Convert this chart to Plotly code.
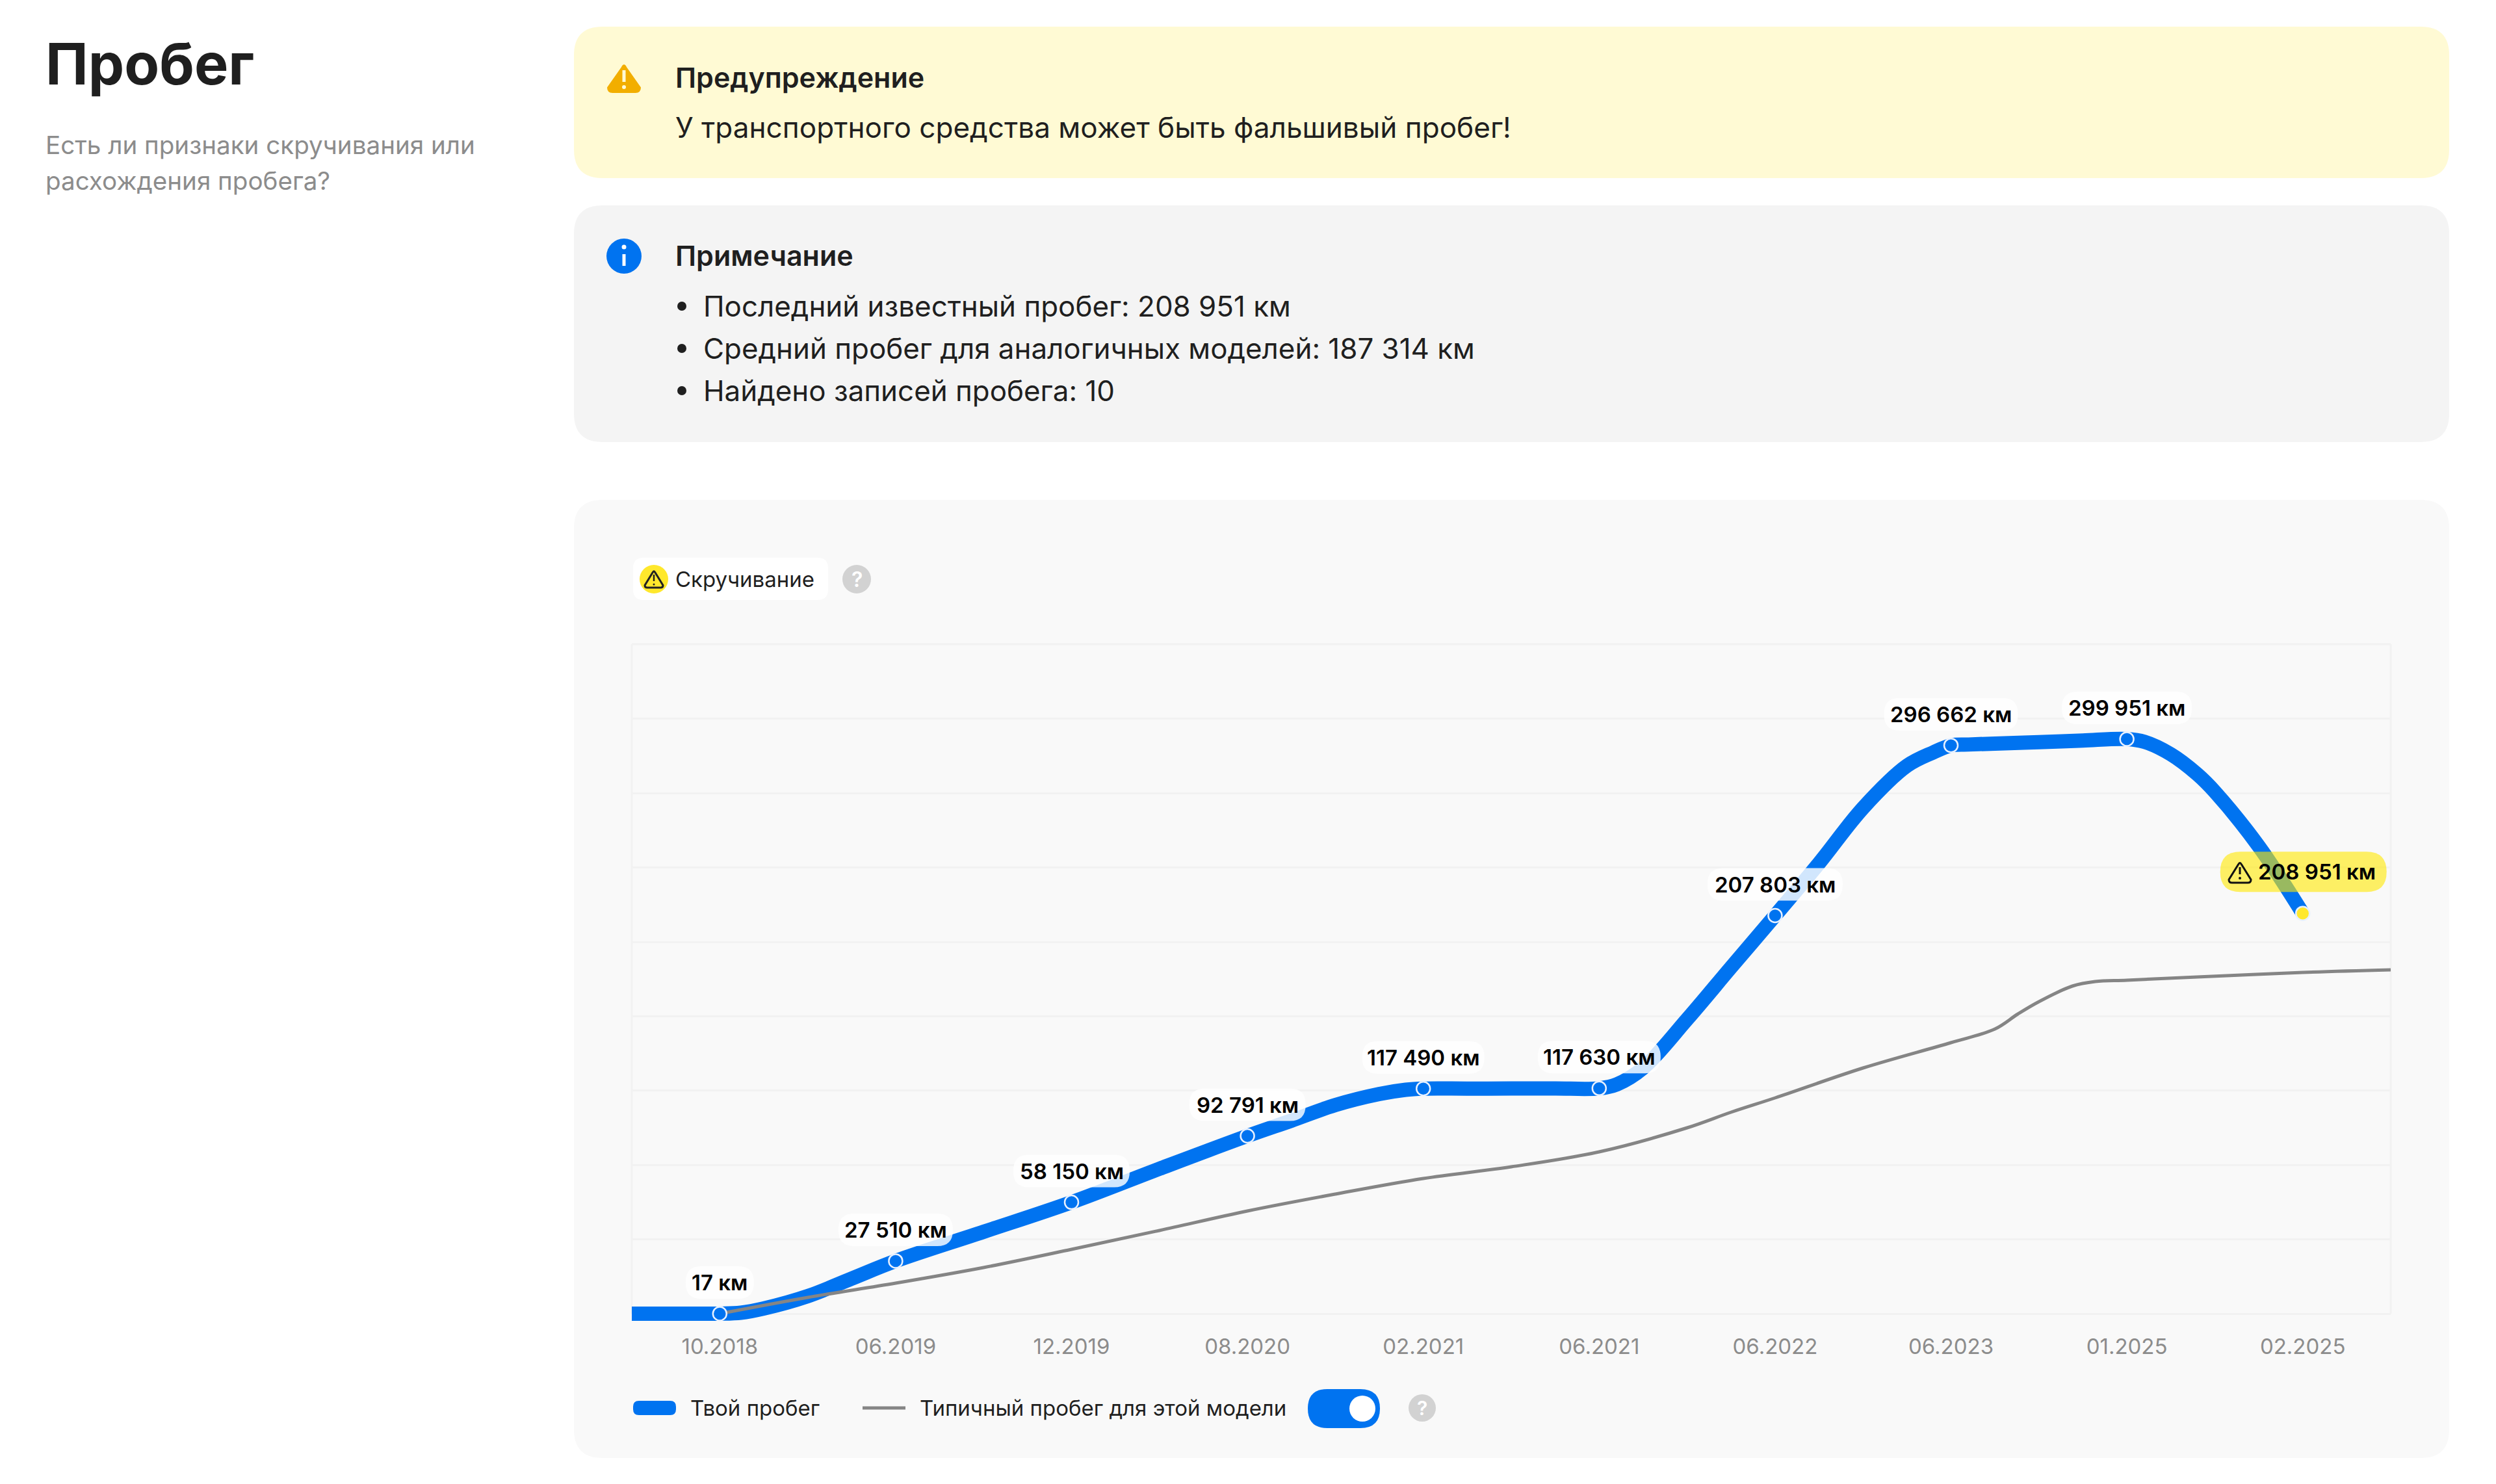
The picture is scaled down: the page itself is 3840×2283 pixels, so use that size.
import plotly.graph_objects as go

# ------------------------------- DATA -------------------------------
dates = ['10.2018', '06.2019', '12.2019', '08.2020', '02.2021', '06.2021', '06.2022', '06.2023', '01.2025', '02.2025']
mileage = [17, 27510, 58150, 92791, 117490, 117630, 207803, 296662, 299951, 208951]

# blue curve (x = position between dates)
curve_x = [-0.5, -0.2, 0, 0.12, 0.25, 0.5, 0.75, 1, 1.5, 2, 2.5, 3, 3.25, 3.5, 3.75, 3.9, 4, 4.25, 4.5, 4.75, 5, 5.1,
           5.25, 5.5, 5.75, 6, 6.25, 6.5, 6.75, 6.9, 7, 7.1, 7.25, 7.5, 7.75, 8, 8.1, 8.25, 8.4, 8.5, 8.75, 9]
curve_y = [17, 17, 17, 500, 2714, 9161, 18322, 27510, 42752, 58150, 75664, 92791, 100772, 108915, 114683, 116900, 117490,
           117500, 117530, 117570, 117630, 119700, 128255, 153703, 180847, 207803, 235135, 263975, 286000,
           293000, 296662, 297100, 297600, 298300, 299200, 299951, 298500, 292000, 281600, 272458, 243957, 208951]

# gray "typical" curve, also
typical_x = [0, 0.5, 1, 1.5, 2, 2.5, 3, 3.5, 4, 4.5, 5, 5.5, 5.75, 6, 6.5, 7, 7.25, 7.38, 7.5, 7.69, 7.82, 8, 8.4, 9, 9.5]
typical_y = [0, 8482, 15947, 24090, 33591, 43430, 53609, 62431, 70574, 76682, 84486, 97040, 105183, 112648,
             128255, 141488, 148613, 156416, 162864, 171007, 173382, 174061, 175757, 178132, 179490]

label_widths = [105, 176, 179, 179, 188, 189, 208, 206, 200]

notes = ['Последний известный пробег: 208 951 км',
         'Средний пробег для аналогичных моделей: 187 314 км',
         'Найдено записей пробега: 10']

# ------------------------------ HELPERS -----------------------------
W, H = 3840, 2283
BLUE = '#0073F0'
GRID = '#F2F2F2'
FONT = 'Inter'
KM_PER_PX = 339.3


def px(x):
    return x / W


def py(y):
    return 1 - y / H


def round_path(x0, y0, x1, y1, r, fx=px, fy=py):
    # rounded rectangle path, fx / fy convert to the shape's coordinates
    p = [('M', x0 + r, y0), ('L', x1 - r, y0), ('Q', x1, y0, x1, y0 + r), ('L', x1, y1 - r),
         ('Q', x1, y1, x1 - r, y1), ('L', x0 + r, y1), ('Q', x0, y1, x0, y1 - r), ('L', x0, y0 + r),
         ('Q', x0, y0, x0 + r, y0)]
    out = ''
    for s in p:
        vals = s[1:]
        coords = [fx(v) if i % 2 == 0 else fy(v) for i, v in enumerate(vals)]
        out += s[0] + ' '.join(f'{c:.6f}' for c in coords) + ' '
    return out + 'Z'


def round_triangle(cx, top, bottom, half, r):
    # triangle with soft corners, pixel coordinates
    d = r * 1.2
    return ('M%.6f %.6f Q%.6f %.6f %.6f %.6f L%.6f %.6f Q%.6f %.6f %.6f %.6f L%.6f %.6f Q%.6f %.6f %.6f %.6f Z' % (
        px(cx - d * 0.5), py(top + d), px(cx), py(top), px(cx + d * 0.5), py(top + d),
        px(cx + half), py(bottom - d), px(cx + half), py(bottom), px(cx + half - d), py(bottom),
        px(cx - half + d), py(bottom), px(cx - half), py(bottom), px(cx - half), py(bottom - d)))


def box(x0, y0, x1, y1, r, color, layer='below'):
    return dict(type='path', xref='paper', yref='paper', path=round_path(x0, y0, x1, y1, r),
                fillcolor=color, line_width=0, layer=layer)


def circle(cx, cy, r, color, layer='above'):
    return dict(type='circle', xref='paper', yref='paper', x0=px(cx - r), x1=px(cx + r), y0=py(cy + r), y1=py(cy - r),
                fillcolor=color, line_width=0, layer=layer)


def stroke(x0, y0, x1, y1, color, width, layer='above'):
    return dict(type='line', xref='paper', yref='paper', x0=px(x0), x1=px(x1), y0=py(y0), y1=py(y1),
                line=dict(color=color, width=width), layer=layer)


def text(x, y, s, size, color='#1f1f1f', weight=400, anchor='left'):
    return dict(xref='paper', yref='paper', x=px(x), y=py(y), text=s, showarrow=False, xanchor=anchor, yanchor='middle',
                font=dict(family=FONT, size=size, color=color, weight=weight))


def anchored_path(x, y, path, color, layer='above'):
    # shape sized in pixels but pinned to a data point
    return dict(type='path', xref='x', yref='y', xsizemode='pixel', ysizemode='pixel', xanchor=x, yanchor=y,
                path=path, fillcolor=color, line_width=0, layer=layer)


def same(v):
    return v


# ------------------------------ FIGURE ------------------------------
fig = go.Figure()
fig.add_trace(go.Scatter(x=curve_x, y=curve_y, mode='lines', hoverinfo='skip',
                         line=dict(color=BLUE, width=22, shape='spline', smoothing=1)))
fig.add_trace(go.Scatter(x=typical_x, y=typical_y, mode='lines', hoverinfo='skip',
                         line=dict(color='#858585', width=5, shape='spline', smoothing=1)))
fig.add_trace(go.Scatter(x=list(range(len(mileage))), y=mileage, mode='markers', cliponaxis=False, hoverinfo='skip',
                         marker=dict(size=21, color=[BLUE] * 9 + ['#FFE82C'], line=dict(color='#E8F1FF', width=2.5))))

shapes = [box(883, 41, 3768, 274, 44, '#FFFAD4'),
          box(883, 316, 3768, 680, 44, '#F4F4F4'),
          box(883, 769, 3768, 2243, 44, '#F9F9F9'),
          stroke(972, 991, 972, 2021, GRID, 3, layer='below'),
          stroke(3678, 991, 3678, 2021, GRID, 3, layer='below'),
          stroke(972, 991, 3678, 991, GRID, 3, layer='below')]

# soft shadows under the points
for i, v in enumerate(mileage):
    for r, dy in [(30, 20), (24, 18), (18, 16)]:
        shapes.append(anchored_path(i, v, f'M{-r} {-dy} A{r} {r} 0 1 0 {r} {-dy} A{r} {r} 0 1 0 {-r} {-dy} Z',
                                    'rgba(0,0,0,0.025)', layer='below'))

# white pills behind the point labels
annotations = []
for i, v in enumerate(mileage[:-1]):
    w = label_widths[i] / 2
    shapes.append(anchored_path(i, v, round_path(-w, 23, w, 73, 24, same, same), 'rgba(255,255,255,0.82)'))
    annotations.append(dict(x=i, y=v, xref='x', yref='y', yshift=48, showarrow=False, text=f'{v:,}'.replace(',', ' ') + ' км',
                            font=dict(family=FONT, size=33, color='#000000', weight=600)))

# yellow pill of the last point
shapes.append(anchored_path(9, mileage[9], round_path(-127, 33, 129, 95, 31, same, same), 'rgba(255,232,0,0.6)'))
annotations.append(dict(x=9, y=mileage[9], xref='x', yref='y', xshift=22, yshift=64, showarrow=False,
                        text=f'{mileage[9]:,}'.replace(',', ' ') + ' км',
                        font=dict(family=FONT, size=33, color='#000000', weight=600)))
shapes.append(dict(type='path', xref='paper', yref='paper', path=round_triangle(3446, 1325, 1358, 17, 4),
                   line=dict(color='#111111', width=3), fillcolor='rgba(0,0,0,0)', layer='above'))
shapes.append(stroke(3446, 1334, 3446, 1345, '#111111', 3))
shapes.append(circle(3446, 1351, 2, '#111111'))

# warning + info icons
shapes.append(dict(type='path', xref='paper', yref='paper', path=round_triangle(960, 95, 143, 26, 7),
                   fillcolor='#F2AE00', line_width=0, layer='above'))
shapes.append(stroke(960, 108, 960, 126, '#FFFAD4', 5))
shapes.append(circle(960, 134, 3, '#FFFAD4'))
shapes.append(circle(960, 394, 27, BLUE))
shapes.append(stroke(960, 391, 960, 409, 'white', 5))
shapes.append(circle(960, 380, 3.5, 'white'))

# bullets
for y in [471, 536, 601]:
    shapes.append(circle(1049, y, 7, '#1f1f1f'))

# top chip
shapes.append(box(974, 858, 1274, 923, 16, '#FFFFFF'))
shapes.append(circle(1006, 891, 22, '#FFE82C'))
shapes.append(dict(type='path', xref='paper', yref='paper', path=round_triangle(1006, 877, 904, 14, 3),
                   line=dict(color='#222222', width=3), fillcolor='rgba(0,0,0,0)', layer='above'))
shapes.append(stroke(1006, 884, 1006, 894, '#222222', 2.5))
shapes.append(circle(1006, 899, 1.5, '#222222'))
shapes.append(circle(1318, 891, 22, '#D2D2D2'))

# bottom legend
shapes.append(box(974, 2155, 1040, 2177, 9, BLUE, layer='above'))
shapes.append(stroke(1327, 2166, 1393, 2166, '#858585', 5))
shapes.append(box(2012, 2137, 2123, 2197, 30, BLUE, layer='above'))
shapes.append(circle(2096, 2167, 20, 'white'))
shapes.append(circle(2188, 2166, 21, '#D2D2D2'))

annotations += [
    text(68, 98, 'Пробег', 88, weight=700),
    text(68, 223, 'Есть ли признаки скручивания или', 38.6, color='#8c8c8c'),
    text(68, 278, 'расхождения пробега?', 38.6, color='#8c8c8c'),
    text(1037, 119, 'Предупреждение', 43, weight=600),
    text(1037, 196, 'У транспортного средства может быть фальшивый пробег!', 44.1),
    text(1037, 393, 'Примечание', 43, weight=600),
    text(1037, 891, 'Скручивание', 33),
    text(1318, 891, '?', 32, color='#FFFFFF', anchor='center', weight=600),
    text(2188, 2166, '?', 30, color='#FFFFFF', anchor='center', weight=600),
    text(1060, 2166, 'Твой пробег', 33),
    text(1413, 2166, 'Типичный пробег для этой модели', 33),
]
for y, s in zip([471, 536, 601], notes):
    annotations.append(text(1080, y, s, 43.9))

# the axis runs a little under zero so the thick line is not cut at the bottom
under_px = 16
fig.update_layout(
    width=W, height=H, margin=dict(l=0, r=0, t=0, b=0), autosize=False,
    paper_bgcolor='white', plot_bgcolor='rgba(0,0,0,0)', showlegend=False,
    shapes=shapes, annotations=annotations,
    xaxis=dict(domain=[px(972), px(3678)], range=[-0.5, 9.5], tickmode='array', tickvals=list(range(10)), ticktext=dates,
               showgrid=False, zeroline=False, ticks='outside', ticklen=5, tickcolor='rgba(0,0,0,0)',
               tickfont=dict(family=FONT, size=33, color='#8c8c8c')),
    yaxis=dict(domain=[py(2021 + under_px), py(991.4)], range=[-under_px * KM_PER_PX, 349344], tick0=0, dtick=38816,
               showticklabels=False, showgrid=True, gridcolor=GRID, gridwidth=3, zeroline=False),
)

fig.write_html('out.html', config=dict(displayModeBar=False), post_script="document.body.style.margin='0';")
